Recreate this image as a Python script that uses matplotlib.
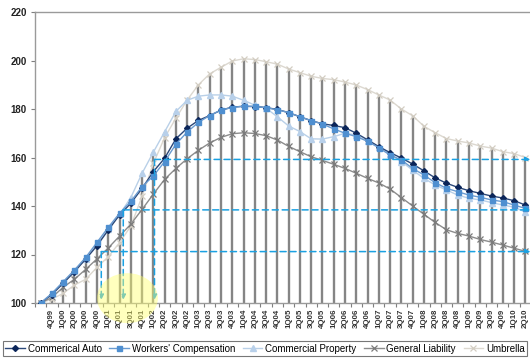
import matplotlib
matplotlib.use("Agg")
import matplotlib.pyplot as plt
from matplotlib.patches import Ellipse
import numpy as np

plt.rcParams['font.family'] = ['Liberation Sans', 'DejaVu Sans']

# ---- data ----
labels = [""] + ["4Q99"] + [f"{q}Q{y:02d}" for y in range(0, 10) for q in range(1, 5)] + ["1Q10", "2Q10"]

commercial_auto = [100, 103.5, 108.1, 112.9, 118.1, 123.6, 130.1, 136.3, 141.1, 147.3,
                   154.2, 159.7, 167.7, 172.1, 175.3, 177.3, 179.5, 180.8, 181.1, 181.0,
                   180.6, 179.8, 178.5, 176.8, 175.2, 173.9, 173.2, 172.3, 170.0, 167.3,
                   164.5, 162.0, 159.8, 157.3, 154.5, 151.6, 149.4, 147.7, 146.3, 145.2,
                   144.1, 143.3, 142.2, 140.4]
workers_comp = [100, 104.0, 108.8, 113.6, 118.8, 125.0, 131.2, 137.0, 141.9, 148.0,
                152.4, 158.3, 165.5, 170.5, 174.5, 177.3, 179.6, 180.6, 181.2, 181.1,
                180.5, 179.7, 178.5, 176.8, 175.2, 173.8, 171.8, 170.0, 168.6, 166.7,
                164.0, 161.0, 159.0, 155.5, 152.8, 149.6, 147.3, 145.9, 144.5, 143.6,
                142.5, 141.8, 140.4, 139.0]
commercial_property = [100, 103.8, 108.5, 113.2, 118.3, 124.2, 130.5, 136.5, 143.5, 153.5,
                       162.2, 170.6, 179.0, 183.6, 185.3, 185.8, 185.8, 185.3, 183.6, 181.6,
                       180.3, 176.8, 173.0, 170.7, 167.7, 167.6, 168.6, 170.0, 169.3, 166.6,
                       164.5, 161.5, 158.3, 154.8, 151.4, 148.7, 146.6, 144.5, 143.2, 142.5,
                       141.4, 140.4, 139.5, 137.5]
general_liability = [100, 102.3, 106.5, 109.8, 113.9, 118.2, 122.7, 127.6, 132.5, 138.6,
                     144.9, 151.0, 155.5, 159.5, 163.0, 166.0, 168.3, 169.8, 170.2, 169.9,
                     169.0, 167.2, 164.6, 162.4, 160.3, 158.8, 157.2, 155.5, 153.5, 151.4,
                     149.5, 147.0, 143.5, 140.0, 136.6, 133.2, 130.2, 128.7, 127.6, 126.2,
                     125.1, 123.9, 122.6, 121.3]
umbrella = [100, 101.6, 104.0, 107.4, 109.8, 114.7, 119.1, 124.9, 131.7, 144.0,
            157.6, 168.2, 176.2, 183.7, 190.0, 194.5, 197.2, 199.8, 200.7, 200.4,
            199.5, 198.5, 196.5, 195.0, 193.5, 192.6, 192.1, 191.1, 189.9, 188.0,
            185.8, 183.7, 180.0, 177.2, 172.9, 170.2, 167.8, 166.8, 166.0, 164.7,
            163.9, 162.4, 161.6, 160.0]

series_names = ["Commerical Auto", "Workers' Compensation", "Commercial Property",
                "General Liability", "Umbrella"]

# annotation levels (reference arrows)
arrow_starts = [5.38, 7.33, 10.1]
arrow_levels = [121.2, 138.4, 159.2]

# ---- figure ----
W, H = 530, 360
fig = plt.figure(figsize=(W / 100, H / 100), dpi=100)
ax = fig.add_axes([35 / W, 57 / H, 496 / W, 291 / H])

x = np.arange(len(labels))
all_series = [commercial_auto, workers_comp, commercial_property, general_liability, umbrella]
tops = np.max(np.array(all_series), axis=0)

ax.vlines(x, 100, tops, color='#858585', lw=1.7, zorder=1)

styles = [
    dict(color='#2a4778', marker='D', ms=3.0, mfc='#0b2559', mec='#0b2559'),
    dict(color='#6a9bd0', marker='s', ms=3.6, mfc='#4f8fd0', mec='#4f8fd0'),
    dict(color='#b9d0e8', marker='^', ms=4.0, mfc='#b8d0ea', mec='#b8d0ea'),
    dict(color='#8c8c8c', marker='x', ms=3.8, mfc='#7a7a7a', mec='#7a7a7a', mew=0.9),
    dict(color='#dcd8d0', marker='x', ms=4.0, mfc='#d3cdc2', mec='#d3cdc2', mew=0.9),
]
zorders = [3.5, 3.6, 3.3, 3.2, 3.1]
handles = {}
for k in [4, 3, 2, 0, 1]:
    h, = ax.plot(x, all_series[k], lw=1.0, zorder=zorders[k],
                 label=series_names[k], **styles[k])
    handles[k] = h

ax.set_xlim(-0.5, len(labels) - 0.5)
ax.set_ylim(100, 220)
ax.set_yticks(range(100, 221, 20))
ax.set_yticklabels([str(v) for v in range(100, 221, 20)], fontsize=7, fontweight='bold', color='#222222')
ax.set_xticks(x)
ax.set_xticklabels(labels, rotation=90, fontsize=5.7, fontweight='bold', color='#333333')
ax.set_xticks(np.arange(-0.5, len(labels), 1), minor=True)
ax.tick_params(axis='x', which='major', length=0, pad=4)
ax.tick_params(axis='x', which='minor', length=3, color='#7f7f7f', width=0.8)
ax.tick_params(axis='y', length=3, color='#7f7f7f', width=0.8, pad=3)

for s in ['left', 'bottom', 'top']:
    ax.spines[s].set_color('#9a9a9a')
    ax.spines[s].set_linewidth(1.0)
ax.spines['right'].set_visible(False)

# dashed arrows
acol = '#1ba1e2'
for xs, lv in zip(arrow_starts, arrow_levels):
    ax.annotate('', xy=(len(labels) - 0.55, lv), xytext=(xs, lv),
                arrowprops=dict(arrowstyle='-|>', color=acol, lw=1.1, ls=(0, (4, 2.5)),
                                mutation_scale=7, shrinkA=0, shrinkB=0), zorder=6)
    ax.annotate('', xy=(xs, 101.3), xytext=(xs, lv),
                arrowprops=dict(arrowstyle='-|>', color=acol, lw=1.1, ls=(0, (4, 2.5)),
                                mutation_scale=7, shrinkA=0, shrinkB=0), zorder=6)

# yellow highlight
ell = Ellipse((7.7, 102), 5.4, 20.6, facecolor='#ffff70', edgecolor='none', alpha=0.45,
              zorder=7, clip_on=False)
ax.add_patch(ell)

leg = fig.legend([handles[k] for k in range(5)], series_names, loc='lower center',
                 bbox_to_anchor=(0.5, 0.0), ncol=5, fontsize=7.0, frameon=True,
                 fancybox=False, edgecolor='#555555', handlelength=2.0, handletextpad=0.3,
                 columnspacing=0.8, borderpad=0.25, borderaxespad=0.4)
leg.get_frame().set_linewidth(0.8)

fig.savefig('out.png', dpi=100)
